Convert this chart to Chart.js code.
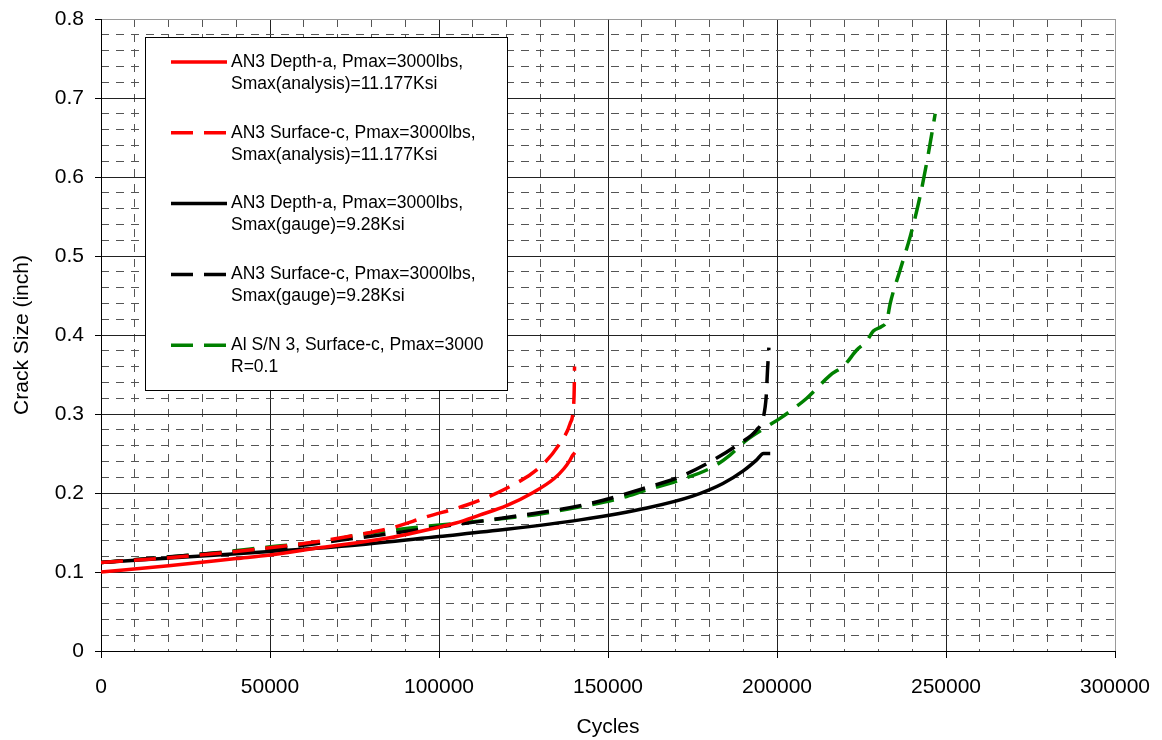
<!DOCTYPE html>
<html>
<head>
<meta charset="utf-8">
<script src="https://cdn.jsdelivr.net/npm/chart.js@4.4.1/dist/chart.umd.min.js"></script>
<style>
  html, body { margin: 0; padding: 0; background: #ffffff; }
  #wrap { width: 1162px; height: 740px; position: relative; }
</style>
</head>
<body>
<div id="wrap"><canvas id="crack" width="1162" height="740"></canvas></div>
<script>
// Crack growth curves: crack size (inch) against load cycles.

// AN3 Depth-a, analysis stress (solid red)
const depthAnalysisCycles = [0, 20000, 40000, 50000, 65000, 85000, 95000, 105000, 112000, 120000, 128000, 134000, 137000, 138800, 139600, 140200];
const depthAnalysisSize   = [0.100, 0.108, 0.117, 0.1215, 0.131, 0.143, 0.152, 0.162, 0.172, 0.184, 0.201, 0.218, 0.231, 0.242, 0.248, 0.251];

// AN3 Surface-c, analysis stress (dashed red)
const surfAnalysisCycles = [0, 20000, 40000, 60000, 72700, 85500, 96400, 108200, 120000, 129900, 135800, 138800, 139700, 140000, 140100];
const surfAnalysisSize   = [0.112, 0.118, 0.126, 0.136, 0.1447, 0.1553, 0.170, 0.1848, 0.206, 0.233, 0.263, 0.288, 0.305, 0.330, 0.360];

// AN3 Depth-a, gauge stress (solid black)
const depthGaugeCycles = [0, 25000, 50000, 75000, 100000, 120000, 141700, 161500, 175000, 184000, 190000, 194000, 196000, 198000];
const depthGaugeSize   = [0.112, 0.119, 0.126, 0.134, 0.145, 0.154, 0.166, 0.181, 0.196, 0.212, 0.228, 0.242, 0.250, 0.250];

// AN3 Surface-c, gauge stress (dashed black)
const surfGaugeCycles = [0, 35000, 55000, 70000, 100000, 120000, 145000, 161500, 171300, 181200, 189000, 194000, 196000, 196800, 197200, 197600];
const surfGaugeSize   = [0.112, 0.1245, 0.1313, 0.1397, 0.157, 0.169, 0.187, 0.207, 0.2207, 0.2418, 0.263, 0.280, 0.2966, 0.322, 0.356, 0.384];

// Al S/N 3 test, Surface-c (dashed green)
const testCycles = [0, 29300, 49000, 68700, 75600, 95400, 115100, 129900, 141700, 151600, 161500, 171300, 181200, 186100, 191000, 197000, 200900, 208800, 215700, 220000, 223600, 226500, 228500, 231000, 232500, 233500, 236400, 239400, 242300, 244800, 246800];
const testSize   = [0.112, 0.1224, 0.1313, 0.1405, 0.1468, 0.1574, 0.1658, 0.1734, 0.1827, 0.191, 0.2038, 0.2165, 0.2333, 0.248, 0.267, 0.284, 0.2945, 0.320, 0.349, 0.362, 0.381, 0.392, 0.405, 0.411, 0.418, 0.440, 0.482, 0.5245, 0.575, 0.630, 0.680];

// Legend text, one entry per series, two lines each
const seriesLabels = [
  ['AN3 Depth-a, Pmax=3000lbs,', 'Smax(analysis)=11.177Ksi'],
  ['AN3 Surface-c, Pmax=3000lbs,', 'Smax(analysis)=11.177Ksi'],
  ['AN3 Depth-a, Pmax=3000lbs,', 'Smax(gauge)=9.28Ksi'],
  ['AN3 Surface-c, Pmax=3000lbs,', 'Smax(gauge)=9.28Ksi'],
  ['Al S/N 3, Surface-c, Pmax=3000', 'R=0.1']
];

// Axis tick values
const cycleTicks = [0, 50000, 100000, 150000, 200000, 250000, 300000];
const sizeTicks  = [0, 0.1, 0.2, 0.3, 0.4, 0.5, 0.6, 0.7, 0.8];

const FONT = "'Liberation Sans', Arial, Helvetica, sans-serif";
const DASH = [22, 11];

function pairs(xs, ys) { return xs.map((x, i) => ({ x: x, y: ys[i] })); }

function series(label, xs, ys, color, dashed) {
  return {
    label: label,
    data: pairs(xs, ys),
    borderColor: color,
    backgroundColor: color,
    borderWidth: 3.5,
    borderDash: dashed ? DASH : [],
    pointRadius: 0,
    pointHoverRadius: 0,
    fill: false,
    cubicInterpolationMode: 'monotone',
    xAxisID: 'x',
    yAxisID: 'y'
  };
}

const datasets = [
  series(seriesLabels[0], depthAnalysisCycles, depthAnalysisSize, '#ff0000', false),
  series(seriesLabels[1], surfAnalysisCycles, surfAnalysisSize, '#ff0000', true),
  series(seriesLabels[2], depthGaugeCycles, depthGaugeSize, '#000000', false),
  series(seriesLabels[3], surfGaugeCycles, surfGaugeSize, '#000000', true),
  series(seriesLabels[4], testCycles, testSize, '#008000', true)
];

const isMajorX = v => Math.abs(v / 50000 - Math.round(v / 50000)) < 1e-6;
const isMajorY = v => Math.abs(v * 10 - Math.round(v * 10)) < 1e-6;

// Boxed legend drawn inside the plot area, upper left
const boxLegend = {
  id: 'boxLegend',
  afterDatasetsDraw(chart) {
    const ctx = chart.ctx;
    const left = 145.5, top = 37.5, width = 362, height = 353;
    ctx.save();
    ctx.fillStyle = '#ffffff';
    ctx.fillRect(left, top, width, height);
    ctx.strokeStyle = '#000000';
    ctx.lineWidth = 1;
    ctx.setLineDash([]);
    ctx.strokeRect(left, top, width, height);
    ctx.font = '17.5px ' + FONT;
    ctx.textBaseline = 'middle';
    ctx.textAlign = 'left';
    chart.data.datasets.forEach((ds, i) => {
      const y = 62 + i * 70.8;
      ctx.beginPath();
      ctx.strokeStyle = ds.borderColor;
      ctx.lineWidth = ds.borderWidth;
      ctx.setLineDash(ds.borderDash);
      ctx.moveTo(171, y);
      ctx.lineTo(227, y);
      ctx.stroke();
      ctx.fillStyle = '#000000';
      ds.label.forEach((line, k) => ctx.fillText(line, 231, y + k * 22));
    });
    ctx.restore();
  }
};

new Chart(document.getElementById('crack'), {
  type: 'line',
  data: { datasets: datasets },
  plugins: [boxLegend],
  options: {
    responsive: false,
    animation: false,
    devicePixelRatio: 1,
    layout: { padding: { left: 0, top: 19, right: 47, bottom: 0 } },
    plugins: {
      legend: { display: false },
      tooltip: { enabled: false }
    },
    scales: {
      x: {
        type: 'linear',
        position: 'bottom',
        min: 0, max: 300000,
        afterBuildTicks: s => { s.ticks = cycleTicks.map(v => ({ value: v })); },
        afterFit: s => { s.height = 89; s.paddingLeft = 0; s.paddingRight = 0; },
        ticks: {
          color: '#000',
          font: { family: FONT, size: 21 },
          padding: 17,
          maxRotation: 0,
          callback: v => String(v)
        },
        grid: {
          color: c => (c.tick && c.tick.value === 300000) ? '#9a9a9a' : '#222222',
          lineWidth: 1,
          tickLength: 7,
          tickColor: '#000'
        },
        border: { color: '#000', width: 1 },
        title: {
          display: true,
          text: 'Cycles',
          color: '#000',
          font: { family: FONT, size: 21 },
          padding: { top: 0, bottom: 0 }
        }
      },
      xMinor: {
        type: 'linear',
        position: 'bottom',
        min: 0, max: 300000,
        afterFit: s => { s.height = 0; s.paddingLeft = 0; s.paddingRight = 0; },
        ticks: { display: false, stepSize: 10000 },
        grid: {
          color: c => (c.tick && !isMajorX(c.tick.value)) ? '#555555' : 'rgba(0,0,0,0)',
          lineWidth: 1,
          drawTicks: false
        },
        border: { display: false, dash: [8, 7] }
      },
      y: {
        type: 'linear',
        position: 'left',
        min: 0, max: 0.8,
        afterBuildTicks: s => { s.ticks = sizeTicks.map(v => ({ value: v })); },
        afterFit: s => { s.width = 101; s.paddingTop = 0; s.paddingBottom = 0; },
        ticks: {
          color: '#000',
          font: { family: FONT, size: 21 },
          padding: 11,
          callback: v => String(Math.round(v * 10) / 10)
        },
        grid: {
          color: c => (c.tick && c.tick.value === 0.8) ? '#9a9a9a' : '#222222',
          lineWidth: 1,
          tickLength: 6,
          tickColor: '#000'
        },
        border: { color: '#000', width: 1 },
        title: {
          display: true,
          text: 'Crack Size (inch)',
          color: '#000',
          font: { family: FONT, size: 21 },
          padding: { top: 10, bottom: 0 }
        }
      },
      yMinor: {
        type: 'linear',
        position: 'left',
        min: 0, max: 0.8,
        afterFit: s => { s.width = 0; s.paddingTop = 0; s.paddingBottom = 0; },
        ticks: { display: false, stepSize: 0.02 },
        grid: {
          color: c => (c.tick && !isMajorY(c.tick.value)) ? '#555555' : 'rgba(0,0,0,0)',
          lineWidth: 1,
          drawTicks: false
        },
        border: { display: false, dash: [8, 7] }
      }
    }
  }
});
</script>
</body>
</html>
